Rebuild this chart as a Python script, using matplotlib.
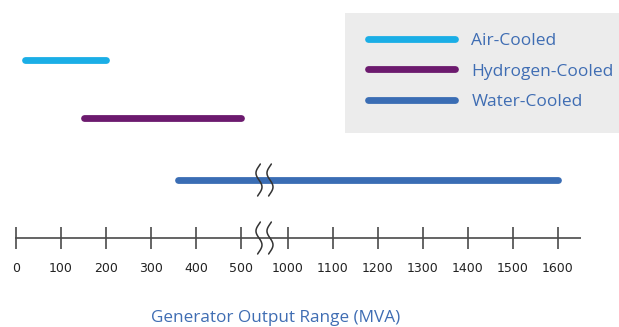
import numpy as np
import matplotlib.pyplot as plt
from matplotlib import transforms as mtransforms
from matplotlib.patches import Rectangle

# Output ranges per generator cooling type (MVA)
cooling_types = ["Air-Cooled", "Hydrogen-Cooled", "Water-Cooled"]
range_start = [20, 150, 360]
range_end = [200, 500, 1600]

tick_values = [0, 100, 200, 300, 400, 500,
               1000, 1100, 1200, 1300, 1400, 1500, 1600]
tick_labels = [str(v) for v in tick_values]

colors = ["#1aaee6", "#6c1a6e", "#3a6db4"]
text_blue = "#3f6db3"
axis_grey = "#4a4a4a"

# vertical layout (axes runs top-down in pixel-like units)
ROW_Y = [60, 118, 180]
AXIS_Y = 238

# broken axis: 500..1000 squeezed into a short gap
BREAK_LO, BREAK_HI, GAP = 500, 1000, 104.0


def fwd(x):
    x = np.asarray(x, dtype=float)
    mid = BREAK_LO + (x - BREAK_LO) * GAP / (BREAK_HI - BREAK_LO)
    hi = x - BREAK_HI + BREAK_LO + GAP
    return np.where(x <= BREAK_LO, x, np.where(x >= BREAK_HI, hi, mid))


def inv(u):
    u = np.asarray(u, dtype=float)
    mid = BREAK_LO + (u - BREAK_LO) * (BREAK_HI - BREAK_LO) / GAP
    hi = u - BREAK_LO - GAP + BREAK_HI
    return np.where(u <= BREAK_LO, u,
                    np.where(u >= BREAK_LO + GAP, hi, mid))


def draw_break(ax, x, y, half_h, dx_px):
    """Draw a pair of wavy break marks centred on data point (x, y)."""
    s = np.linspace(-1.15, 1.15, 60)
    ys = s * half_h / 1.15 / 100.0
    for off in (-dx_px, dx_px):
        xs = (off - 3.0 * np.sin(np.pi * s)) / 100.0
        trans = (ax.figure.dpi_scale_trans
                 + mtransforms.ScaledTranslation(x, y, ax.transData))
        ax.plot(xs, ys, color="#333333", lw=1.1, transform=trans,
                solid_capstyle="round", zorder=5)


fig = plt.figure(figsize=(6.19, 3.27), dpi=100)
ax = fig.add_axes([0, 0, 1, 1])
ax.set_xscale("function", functions=(fwd, inv))
ax.set_xlim(float(inv(-35.5)), float(inv(1339.5)))
ax.set_ylim(327, 0)
ax.axis("off")

# legend background panel
ax.add_patch(Rectangle((345 / 619, 1 - 133 / 327), 1, 120 / 327,
                       transform=ax.transAxes, facecolor="#ececec",
                       edgecolor="none", zorder=0))

handles = []
for name, x0, x1, y, c in zip(cooling_types, range_start, range_end,
                              ROW_Y, colors):
    (ln,) = ax.plot([x0, x1], [y, y], color=c, lw=4.9,
                    solid_capstyle="round", label=name, zorder=3)
    handles.append(ln)

draw_break(ax, 750, ROW_Y[2], 16, 5.5)

# number line
ax.hlines(AXIS_Y, -3, 1650, color=axis_grey, lw=1.2)
ax.vlines(tick_values, AXIS_Y - 11, AXIS_Y + 11, color=axis_grey, lw=1.2)
draw_break(ax, 750, AXIS_Y, 16, 5.5)
for v, lab in zip(tick_values, tick_labels):
    ax.text(v, 268, lab, ha="center", va="center", fontsize=9,
            family="DejaVu Sans", color="#222222")

ax.text(276 / 619, 1 - 318 / 327, "Generator Output Range (MVA)",
        transform=ax.transAxes, ha="center", va="center", fontsize=12.3,
        family="Open Sans", color=text_blue)

leg = ax.legend(handles=handles, loc="upper left",
                bbox_to_anchor=(368 / 619, 1 - 33 / 327),
                frameon=False, borderpad=0, borderaxespad=0,
                handlelength=5.0, handletextpad=0.95, labelspacing=0.82,
                prop={"family": "Open Sans", "size": 12.5},
                labelcolor=text_blue)

fig.savefig("out.png", dpi=100)
